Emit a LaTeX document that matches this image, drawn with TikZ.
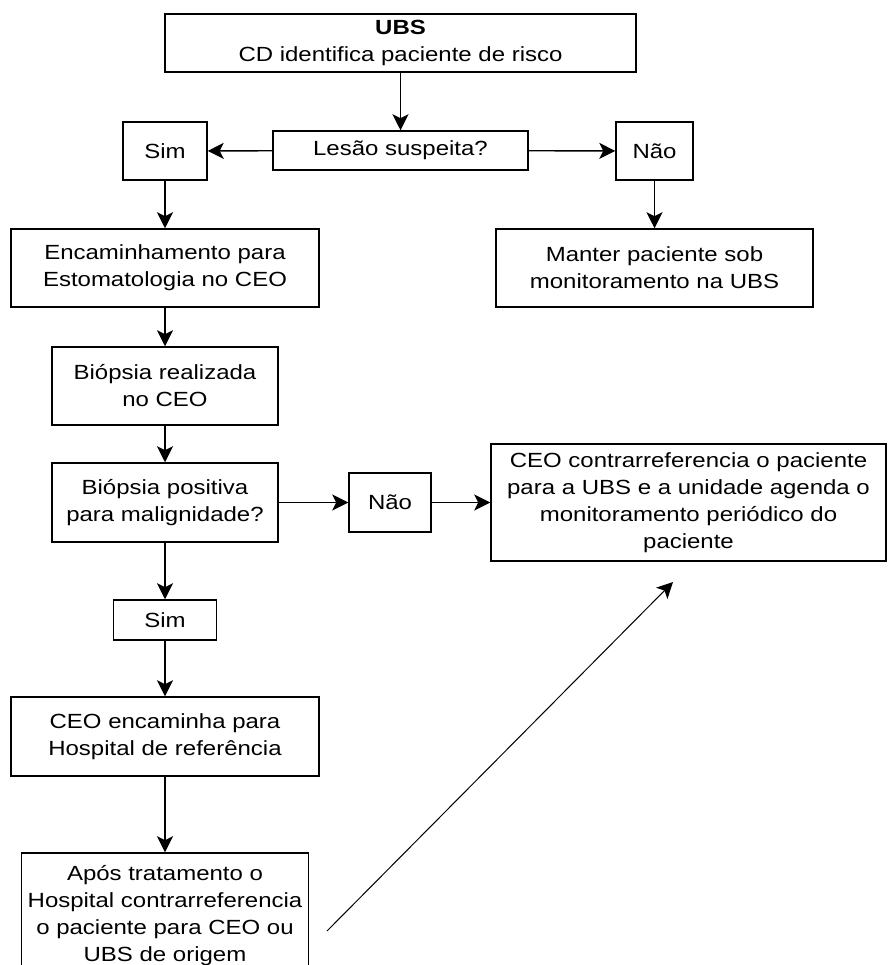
\documentclass[tikz,border=0pt]{standalone}
\usepackage{fontspec}
\setmainfont{Liberation Sans}[FakeStretch=1.17]
\usepackage{tikz}
\usetikzlibrary{arrows.meta}

\begin{document}
\begin{tikzpicture}[x=1pt,y=-1pt,
		 caixa/.style={draw,line width=1.5pt,align=center,inner sep=2pt,
		 font=\fontsize{20.5}{27}\selectfont},
		 seta/.style={line width=1.4pt,-{Stealth[length=16pt,width=16pt,inset=4pt]}}]
		 %\draw[help lines] (0,0) grid[step=50] (888,965);
		 \useasboundingbox (0,0) rectangle (888,965);
		 
		 \node[caixa,minimum width=471pt,minimum height=58pt] (0) at (400.5,43)
		 {\textbf{UBS}\\CD identifica paciente de risco};
		 \node[caixa,minimum width=255pt,minimum height=39pt] (1) at (400.5,150.5) {Lesão suspeita?};
		 \node[caixa,minimum width=84pt,minimum height=58pt] (2) at (165,151) {Sim};
		 \node[caixa,minimum width=77pt,minimum height=58pt] (3) at (654.5,151) {Não};
		 
		 \node[caixa,minimum width=308pt,minimum height=78pt] (4) at (165,268)
		 {Encaminhamento para\\Estomatologia no CEO};
		 \node[caixa,minimum width=317pt,minimum height=78pt] (5) at (654.5,268)
		 {Manter paciente sob\\monitoramento na UBS};
		 \node[caixa,minimum width=226pt,minimum height=78pt] (6) at (165,386)
		 {Biópsia realizada\\no CEO};
		 \node[caixa,minimum width=226pt,minimum height=79pt] (7) at (165,502.5)
		 {Biópsia positiva\\para malignidade?};
		 \node[caixa,minimum width=82pt,minimum height=59pt] (8) at (390,502.5) {Não};
		 \node[caixa,minimum width=395pt,minimum height=117pt] (9) at (688.5,502.5)
		 {CEO contrarreferencia o paciente\\para a UBS e a unidade agenda o\\monitoramento periódico do\\paciente};
		 
		 \node[caixa,minimum width=103pt,minimum height=40pt] (10) at (165,620) {Sim};
		 \node[caixa,minimum width=308pt,minimum height=79pt] (11) at (165,736.5)
		 {CEO encaminha para\\Hospital de referência};
		 \node[caixa,minimum width=287pt,minimum height=125pt] (12) at (165,915.5)
		 {Após tratamento o\\Hospital contrarreferencia\\o paciente para CEO ou\\UBS de origem};
		 
		 \coordinate (a) at (327,931);
		 \coordinate (b) at (673,582);
		 
		 \draw[seta] (0) -- (1);
		 \draw[seta] (1) -- (2);
		 \draw[seta] (1) -- (3);
		 \draw[seta] (2) -- (4);
		 \draw[seta] (3) -- (5);
		 \draw[seta] (4) -- (6);
		 \draw[seta] (6) -- (7);
		 \draw[seta] (7) -- (8);
		 \draw[seta] (8) -- (9);
		 \draw[seta] (7) -- (10);
		 \draw[seta] (10) -- (11);
		 \draw[seta] (11) -- (12);
		 \draw[seta,line width=1pt] (a) -- (b);
\end{tikzpicture}
\end{document}
